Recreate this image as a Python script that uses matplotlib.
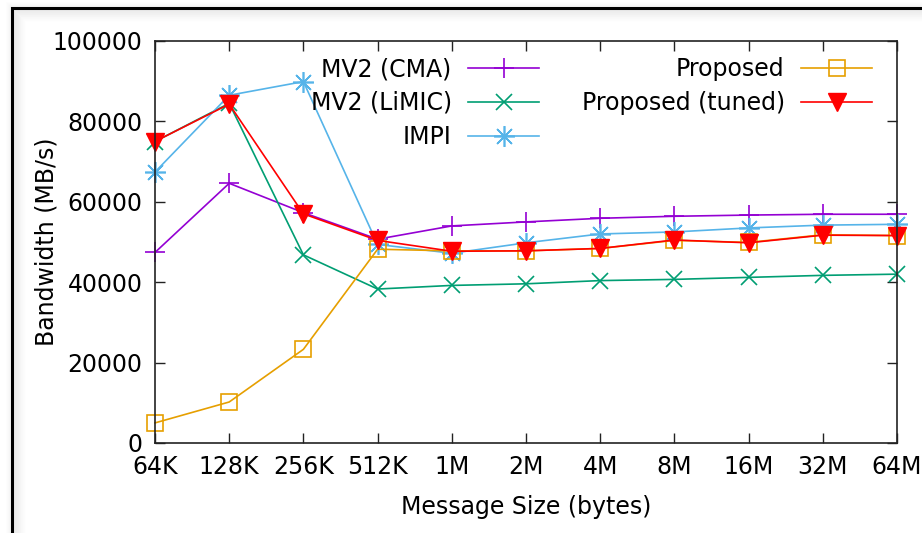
import matplotlib
matplotlib.use("Agg")
import matplotlib.pyplot as plt
from matplotlib.patches import Rectangle

plt.rcParams['font.family'] = ['DejaVu Sans']

sizes = ["64K", "128K", "256K", "512K", "1M", "2M", "4M", "8M", "16M", "32M", "64M"]
mv2_cma = [47400, 64600, 57300, 50700, 54000, 55000, 55900, 56400, 56700, 56900, 56900]
mv2_limic = [75000, 84500, 46800, 38300, 39200, 39600, 40400, 40700, 41200, 41700, 42000]
impi = [67400, 86500, 89900, 49400, 47200, 49800, 52000, 52500, 53500, 54200, 54400]
proposed = [5000, 10200, 23300, 48200, 47800, 47800, 48400, 50400, 49900, 51800, 51600]
proposed_tuned = [75000, 84300, 57000, 50400, 47700, 47800, 48400, 50500, 49800, 51700, 51600]
yticks = [0, 20000, 40000, 60000, 80000, 100000]

W, H = 922, 533
fig = plt.figure(figsize=(W / 100, H / 100), dpi=100)

# outer frame with soft shadow (cropped on right/bottom)
for i in range(12):
    off = 2 + i
    a = 0.07 * (1 - i / 12)
    fig.add_artist(Rectangle(((12 + off) / W, -0.2), 1.5, (H - 8 - off) / H + 0.2,
                             transform=fig.transFigure, fill=False,
                             edgecolor=(0, 0, 0, a), linewidth=0.8))
for i in range(5):
    off = 2 + i
    a = 0.04 * (1 - i / 5)
    fig.add_artist(Rectangle(((12 - off) / W, -0.2), 1.5, (H - 8 + off) / H + 0.2,
                             transform=fig.transFigure, fill=False,
                             edgecolor=(0, 0, 0, a), linewidth=0.8))
fig.add_artist(Rectangle((12 / W, -0.2), 1.5, (H - 8) / H + 0.2,
                         transform=fig.transFigure, fill=False,
                         edgecolor='black', linewidth=2.2))

ax = fig.add_axes([155 / W, 1 - 443 / H, (897 - 155) / W, (443 - 41) / H])
ax.set_facecolor('none')
x = list(range(len(sizes)))

lw = 1.2
ax.plot(x, mv2_cma, color='#9400D3', lw=lw, marker='+', ms=15, mew=1.2,
        label='MV2 (CMA)', clip_on=False)
ax.plot(x, mv2_limic, color='#009E73', lw=lw, marker='x', ms=11, mew=1.2,
        label='MV2 (LiMIC)', clip_on=False)
ax.plot(x, impi, color='#56B4E9', lw=lw, marker=(8, 2, 0), ms=15, mew=1.2,
        label='IMPI', clip_on=False)
ax.plot(x, proposed, color='#E69F00', lw=lw, marker='s', ms=12, mew=1.2,
        mfc='none', label='Proposed', clip_on=False)
ax.plot(x, proposed_tuned, color='#FF0000', lw=lw, marker='v', ms=13,
        mec='#FF0000', mfc='#FF0000', label='Proposed (tuned)', clip_on=False)

ax.set_xlim(0, len(sizes) - 1)
ax.set_ylim(0, 100000)
ax.set_xticks(x)
ax.set_xticklabels(sizes)
ax.set_yticks(yticks)
ax.set_yticklabels([str(v) for v in yticks])

fs = 17
ax.tick_params(axis='both', direction='in', length=7, width=1, labelsize=fs,
               top=True, right=True, color='#222222')
ax.tick_params(axis='x', pad=9)
ax.tick_params(axis='y', pad=9)
for s in ax.spines.values():
    s.set_linewidth(1.2)
    s.set_color('#222222')

ax.set_xlabel('Message Size (bytes)', fontsize=fs, labelpad=11)
ax.set_ylabel('Bandwidth (MB/s)', fontsize=fs, labelpad=-4)

leg = ax.legend(ncol=2, loc='upper right',
                bbox_to_anchor=((872 - 155) / (897 - 155), (443 - 57) / (443 - 41)),
                frameon=False, markerfirst=False, fontsize=fs,
                handlelength=3.0, handletextpad=0.7, labelspacing=0.42,
                columnspacing=1.8, borderpad=0, borderaxespad=0)

fig.savefig('out.png', dpi=100)
